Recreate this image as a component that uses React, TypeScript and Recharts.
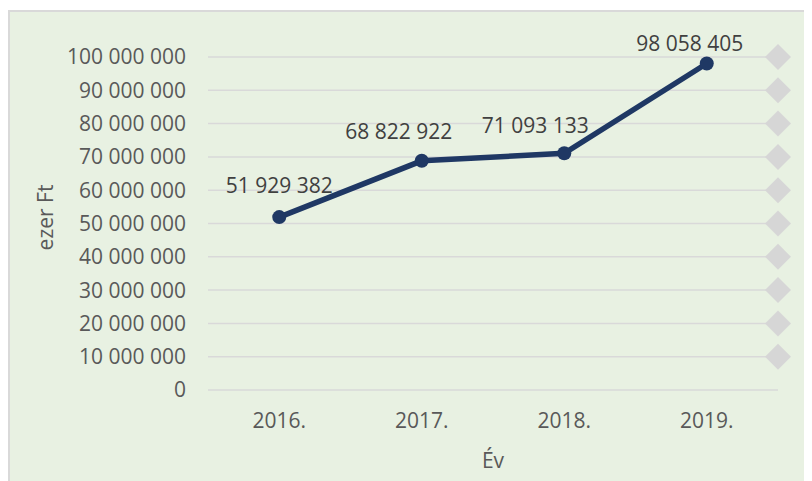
import {
  ComposedChart,
  Line,
  Scatter,
  XAxis,
  YAxis,
  CartesianGrid,
  LabelList,
  Label,
} from "recharts";

// adatok
const years = ["2016.", "2017.", "2018.", "2019."];
const amounts = [51929382, 68822922, 71093133, 98058405];
const yTicks = [0, 10000000, 20000000, 30000000, 40000000, 50000000, 60000000, 70000000, 80000000, 90000000, 100000000];
// szürke rombuszok a jobb szélen (10M..100M)
const markerValues = [10000000, 20000000, 30000000, 40000000, 50000000, 60000000, 70000000, 80000000, 90000000, 100000000];

const data = years.map((year, i) => ({ year, value: amounts[i] }));
const markers = markerValues.map((v) => ({ pos: 1, value: v }));

// címkék kézi eltolása (mint az Excelben)
const labelDx = [0, -23, -29, -17];
const labelDy = [-24, -22, -20, -12];

const FONT = "'Open Sans', 'Noto Sans', sans-serif";
const fmt = (n: number) => String(n).replace(/\B(?=(\d{3})+(?!\d))/g, " ");

const Diamond = (props: any) => {
  const { cx, cy } = props;
  const r = 13;
  return (
    <path
      d={`M${cx},${cy - r} L${cx + r},${cy} L${cx},${cy + r} L${cx - r},${cy} Z`}
      fill="#d6d6d6"
    />
  );
};

const ValueLabel = (props: any) => {
  const { x, y, value, index } = props;
  return (
    <text
      x={x + (labelDx[index] ?? 0)}
      y={y + (labelDy[index] ?? -24)}
      textAnchor="middle"
      fontFamily={FONT}
      fontSize={21}
      fill="#404040"
    >
      {fmt(value)}
    </text>
  );
};

export default function App() {
  return (
    <div
      style={{
        marginTop: 2,
        width: 810,
        height: 475,
        border: "2px solid #d9d9d9",
        background: "#e8f1e2",
      }}
    >
      <ComposedChart
        width={810}
        height={475}
        data={data}
        margin={{ top: 45, right: 42, bottom: 67, left: 0 }}
      >
        <CartesianGrid vertical={false} stroke="#d9d9d9" strokeWidth={1.5} />
        <XAxis
          dataKey="year"
          xAxisId="cat"
          scale="band"
          height={30}
          axisLine={false}
          tickLine={false}
          tickSize={0}
          tickMargin={23}
          tick={{ fontFamily: FONT, fontSize: 21, fill: "#595959" }}
        >
          <Label
            content={({ viewBox }: any) => (
              <text
                x={viewBox.x + viewBox.width / 2}
                y={viewBox.y + 78}
                textAnchor="middle"
                fontFamily={FONT}
                fontSize={21}
                fill="#595959"
              >
                Év
              </text>
            )}
          />
        </XAxis>
        <XAxis xAxisId="num" dataKey="pos" type="number" domain={[0, 1]} height={0} hide />
        <YAxis
          width={198}
          domain={[0, 100000000]}
          ticks={yTicks}
          axisLine={false}
          tickLine={false}
          tickSize={0}
          tickMargin={22}
          tickFormatter={fmt}
          tick={{ fontFamily: FONT, fontSize: 21, fill: "#595959" }}
        >
          <Label
            content={({ viewBox }: any) => {
              const cx = 35;
              const cy = viewBox.y + viewBox.height / 2 - 6;
              return (
                <text
                  x={cx}
                  y={cy}
                  transform={`rotate(-90 ${cx} ${cy})`}
                  textAnchor="middle"
                  dominantBaseline="central"
                  fontFamily={FONT}
                  fontSize={21}
                  fill="#595959"
                >
                  ezer Ft
                </text>
              );
            }}
          />
        </YAxis>
        <Scatter
          xAxisId="num"
          data={markers}
          dataKey="value"
          shape={<Diamond />}
          isAnimationActive={false}
        />
        <Line
          xAxisId="cat"
          dataKey="value"
          stroke="#1f3864"
          strokeWidth={5.5}
          dot={{ r: 7, fill: "#1f3864", stroke: "#1f3864", strokeWidth: 0 }}
          activeDot={false}
          isAnimationActive={false}
        >
          <LabelList dataKey="value" content={<ValueLabel />} />
        </Line>
      </ComposedChart>
    </div>
  );
}
